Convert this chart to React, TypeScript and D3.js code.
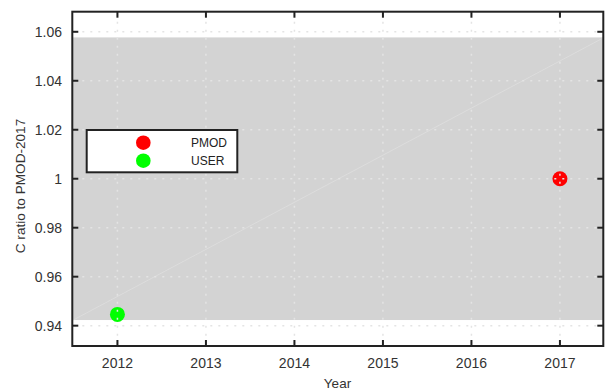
import * as d3 from 'd3';
import { useEffect, useRef } from 'react';

const years = [2012, 2013, 2014, 2015, 2016, 2017];
const yTicks = [0.94, 0.96, 0.98, 1, 1.02, 1.04, 1.06];

const seriesNames = ['PMOD', 'USER'];
const seriesColors = ['#ff0000', '#00ff00'];
const seriesYears = [2017, 2012];
const seriesValues = [1.0, 0.9446];

// shaded uncertainty band and the faint diagonal across it
const band = [0.9423, 1.0577];
const diagYears = [2011.5, 2017.5];
const diagValues = [0.9423, 1.0577];

const App = () => {
  const ref = useRef(null);

  useEffect(() => {
    const width = 605;
    const height = 392;
    const left = 72.3;
    const right = 603.3;
    const top = 11.7;
    const bottom = 346;
    const font = '"Liberation Sans", Arial, sans-serif';
    const frameColor = '#222';
    const textColor = '#333';

    const x = d3.scaleLinear().domain([2011.49, 2017.49]).range([left, right]);
    const y = d3.scaleLinear().domain([0.9317, 1.0682]).range([bottom, top]);

    const svg = d3
      .select(ref.current)
      .append('svg')
      .attr('width', width)
      .attr('height', height)
      .style('position', 'absolute')
      .style('left', 0)
      .style('top', 0)
      .style('font-family', font);

    svg.append('rect').attr('width', width).attr('height', height).attr('fill', '#fff');

    // band
    svg
      .append('rect')
      .attr('x', left)
      .attr('width', right - left)
      .attr('y', y(band[1]))
      .attr('height', y(band[0]) - y(band[1]))
      .attr('fill', '#d3d3d3');

    const diag = d3
      .line()
      .x((d) => x(d[0]))
      .y((d) => y(d[1]));
    svg
      .append('path')
      .datum(diagYears.map((yr, i) => [yr, diagValues[i]]))
      .attr('d', diag)
      .attr('fill', 'none')
      .attr('stroke', '#e2e2e2')
      .attr('stroke-width', 0.6);

    // points
    svg
      .append('g')
      .selectAll('circle')
      .data(seriesNames)
      .join('circle')
      .attr('cx', (_, i) => x(seriesYears[i]))
      .attr('cy', (_, i) => y(seriesValues[i]))
      .attr('r', 7.5)
      .attr('fill', (_, i) => seriesColors[i]);

    // dotted grid on top
    const grid = svg
      .append('g')
      .attr('stroke', '#e4e4e4')
      .attr('stroke-width', 1.5)
      .attr('stroke-dasharray', '2,6');
    grid
      .selectAll('.gy')
      .data(yTicks)
      .join('line')
      .attr('x1', left + 2)
      .attr('x2', right)
      .attr('y1', (d) => y(d))
      .attr('y2', (d) => y(d));
    grid
      .selectAll('.gx')
      .data(years)
      .join('line')
      .attr('class', 'gx')
      .attr('x1', (d) => x(d))
      .attr('x2', (d) => x(d))
      .attr('y1', top + 2)
      .attr('y2', bottom);

    // frame and inward ticks
    svg
      .append('rect')
      .attr('x', left)
      .attr('y', top)
      .attr('width', right - left)
      .attr('height', bottom - top)
      .attr('fill', 'none')
      .attr('stroke', frameColor)
      .attr('stroke-width', 2);

    const ticks = svg.append('g').attr('stroke', frameColor).attr('stroke-width', 2);
    yTicks.forEach((v) => {
      ticks.append('line').attr('x1', left).attr('x2', left + 6).attr('y1', y(v)).attr('y2', y(v));
      ticks.append('line').attr('x1', right).attr('x2', right - 6).attr('y1', y(v)).attr('y2', y(v));
    });
    years.forEach((v) => {
      ticks.append('line').attr('x1', x(v)).attr('x2', x(v)).attr('y1', top).attr('y2', top + 6);
      ticks.append('line').attr('x1', x(v)).attr('x2', x(v)).attr('y1', bottom).attr('y2', bottom - 6);
    });

    // tick labels
    svg
      .append('g')
      .selectAll('text')
      .data(yTicks)
      .join('text')
      .attr('x', 62)
      .attr('y', (d) => y(d) + 5)
      .attr('text-anchor', 'end')
      .attr('font-size', 14)
      .attr('fill', textColor)
      .text((d) => d3.format('~g')(d));

    svg
      .append('g')
      .selectAll('text')
      .data(years)
      .join('text')
      .attr('x', (d) => x(d))
      .attr('y', 368)
      .attr('text-anchor', 'middle')
      .attr('font-size', 14)
      .attr('fill', textColor)
      .text((d) => d);

    svg
      .append('text')
      .attr('x', 337.5)
      .attr('y', 388)
      .attr('text-anchor', 'middle')
      .attr('font-size', 13.5)
      .attr('fill', textColor)
      .text('Year');

    svg
      .append('text')
      .attr('transform', 'translate(24.5,186) rotate(-90)')
      .attr('text-anchor', 'middle')
      .attr('font-size', 13.6)
      .attr('fill', textColor)
      .text('C ratio to PMOD-2017');

    // legend
    const legend = svg.append('g');
    legend
      .append('rect')
      .attr('x', 86.7)
      .attr('y', 130)
      .attr('width', 150.6)
      .attr('height', 42.3)
      .attr('fill', '#fff')
      .attr('stroke', frameColor)
      .attr('stroke-width', 2);
    seriesNames.forEach((name, i) => {
      legend
        .append('circle')
        .attr('cx', 143.3)
        .attr('cy', 142.7 + i * 18)
        .attr('r', 7.3)
        .attr('fill', seriesColors[i]);
      legend
        .append('text')
        .attr('x', 191)
        .attr('y', 142.7 + i * 18 + 4.3)
        .attr('font-size', 12)
        .attr('fill', '#222')
        .text(name);
    });

    return () => {
      svg.remove();
    };
  }, []);

  return <div ref={ref} />;
};

export default App;
